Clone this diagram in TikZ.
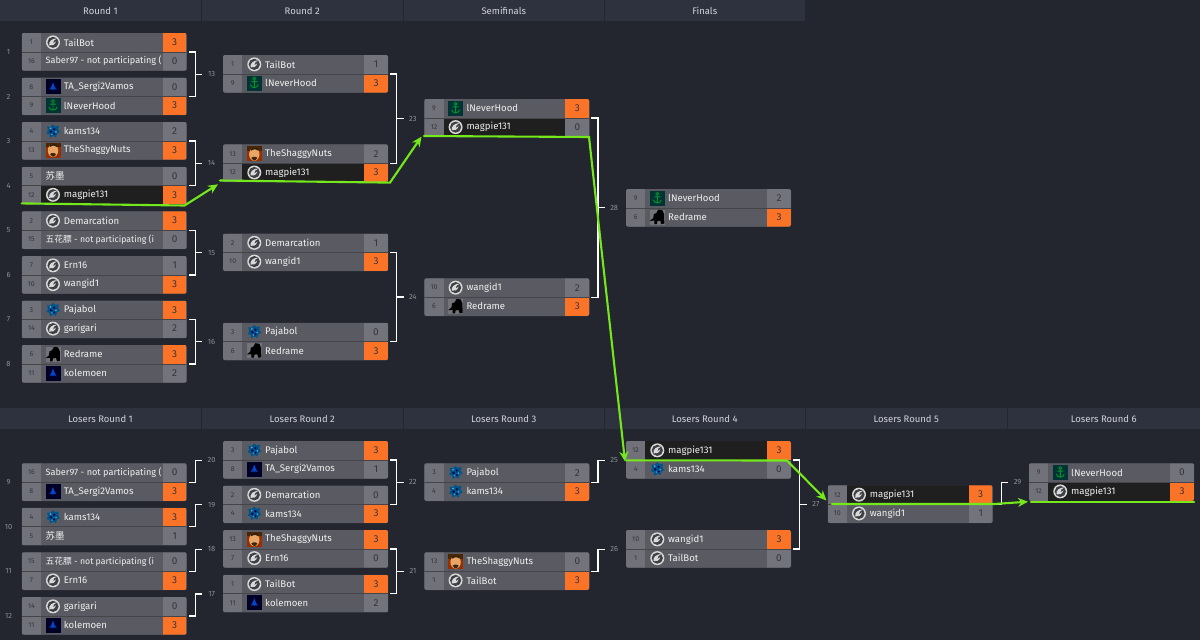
\documentclass[tikz,border=0pt]{standalone}
\usepackage{fontspec}
\setmainfont{Fira Sans}
\newfontfamily\cjkf{Noto Sans CJK SC}
\usetikzlibrary{calc,arrows.meta}
\definecolor{bgc}{HTML}{23262F}
\definecolor{hdr}{HTML}{2E323F}
\definecolor{hdt}{HTML}{D2D4D8}
\definecolor{cname}{HTML}{5A5B62}
\definecolor{cseed}{HTML}{717279}
\definecolor{cscore}{HTML}{73747B}
\definecolor{corange}{HTML}{FB7326}
\definecolor{cdark}{HTML}{201F1F}
\definecolor{tseed}{HTML}{33353C}
\definecolor{tname}{HTML}{F0F0F0}
\definecolor{tnum}{HTML}{8E9097}
\definecolor{gline}{HTML}{74E81A}
\definecolor{logoL}{HTML}{D9D9D9}
\tikzset{
  x=1pt,y=-1pt,
  head/.style={font=\fontsize{9.5}{10}\selectfont,text=hdt,inner sep=0pt},
  num/.style={font=\fontsize{7.5}{9}\selectfont,text=tnum,inner sep=0pt},
  seedt/.style={font=\fontsize{7}{8}\selectfont,text=tseed,inner sep=0pt},
  scoret/.style={font=\fontsize{10}{11}\selectfont,text=tseed,inner sep=0pt},
  namet/.style={font=\fontsize{9.6}{11}\selectfont,text=tname,inner sep=0pt,anchor=west},
  frame/.style={inner sep=0pt,minimum width=165pt,minimum height=37.5pt,rounded corners=2pt,fill=cname},
  br/.style={draw=white,line width=1.2pt},
  win/.style={draw=gline,line width=2.1pt,line cap=round,line join=miter},
  wina/.style={win,-{Stealth[length=10pt,width=9pt]}}
}
% icons, centred on the current scope origin
\newcommand\icntail{\fill[logoL] (0,0) circle (7);\fill[cname!70!black] (0,0) circle (5.6);
  \fill[logoL] (4.2,-4) .. controls (-1,-4) and (-4.5,-1) .. (-3.8,3) .. controls (-1,4) and (2,2.5) .. (3,-1) -- (0,1) -- (1,-2) -- cycle;}
\newcommand\icnhood{\fill[black!60!teal] (-7.5,-7.5) rectangle (7.5,7.5);
  \draw[green!55!teal!75!black,line width=.9pt] (0,-3) -- (0,4.5) (-3,-1.5) -- (3,-1.5) (-4,1.5) .. controls (-3,5.5) and (3,5.5) .. (4,1.5);
  \draw[green!55!teal!75!black,line width=.8pt] (0,-4.5) circle (1.5);}
\newcommand\icnta{\fill[black!85!blue] (-7.5,-7.5) rectangle (7.5,7.5);
  \fill[blue!65!cyan!80!black] (0,-4.5) -- (1.5,-.5) -- (3.5,3) -- (1,2) -- (0,3.5) -- (-1,2) -- (-3.5,3) -- (-1.5,-.5) -- cycle;}
\newcommand\icnkams{\fill[blue!40!cyan!55!black] (0,-7) -- (2,-5) -- (6,-5.5) -- (5,-2) -- (7,1) -- (4,2.5) -- (3,6) -- (0,4.5) -- (-3,6.5) -- (-3.5,3) -- (-6.5,2) -- (-5,-1) -- (-6,-4.5) -- (-2.5,-4.5) -- cycle;
  \fill[blue!30!cyan!35!white!70!black] (-2.5,-3) circle (1) (3,.5) circle (.9) (-1,3) circle (.8);
  \fill[black!70!blue] (-2,.2) circle (1.3) (1.2,-2.2) circle (1.2) (1.2,2.4) circle (1);}
\newcommand\icnface{\fill[orange!60!red!60!black] (-7.5,-7.5) rectangle (7.5,7.5);
  \fill[black!70!orange] (-7.5,-7.5) rectangle (7.5,-3);
  \fill[orange!45!brown!70!white] (0,.5) ellipse (5.2 and 6.5);
  \fill[black!75!brown] (-3.5,-5) .. controls (-1,-7) and (1,-7) .. (4,-5) -- (4,-3) .. controls (1,-5) and (-1,-5) .. (-3.5,-3) -- cycle;
  \fill[black!70!brown] (-3,4) .. controls (-1,7.5) and (1.5,7.5) .. (3,4) -- (1,3) -- (-1,3) -- cycle;}
\newcommand\icnred{\fill[white!15!cname] (-7.5,-7.5) rectangle (7.5,7.5);
  \fill[black] (1,-7.5) -- (5,-7) -- (6.8,-3) -- (7,6.5) -- (4,7) -- (3,3.5) -- (0,4) -- (-.5,7) -- (-3,7) -- (-3,3.5) -- (-7.5,3.8) -- (-4,1) -- (-3.5,-3) -- (-1,-4) -- cycle;}
\newcommand\icnnone{}
% one row: y-offset, tag, seed, icon, name, score, o/g, n/d
\newcommand\mrow[8]{%
  \pgfmathsetmacro\ry{\cy+#1}%
  \pgfmathsetmacro\rbot{\ry+18.75}%
  \pgfmathsetmacro\rc{\ry+9.35}%
  \pgfmathsetmacro\xa{\cx+19.3}\pgfmathsetmacro\xb{\cx+141}\pgfmathsetmacro\xc{\cx+165}%
  \pgfmathsetmacro\xs{\cx+9.7}\pgfmathsetmacro\xi{\cx+31.3}\pgfmathsetmacro\xp{\cx+153}%
  \def\xn{\cx+42}\ifnum\pdfstrcmp{#4}{none}=0 \def\xn{\cx+23.7}\fi
  \fill[cseed] (\cx,\ry) rectangle (\xa,\rbot);
  \fill[\if#8dcdark\else cname\fi] (\xa,\ry) rectangle (\xb,\rbot);
  \fill[\if#7ocorange\else cscore\fi] (\xb,\ry) rectangle (\xc,\rbot);
  \node[seedt] (\mkid-#2-s) at (\xs,\rc) {#3};
  \begin{scope}[shift={(\xi,\rc)}]\csname icn#4\endcsname\end{scope}
  \node[namet] (\mkid-#2-n) at (\xn,\rc) {#5};
  \node[scoret] (\mkid-#2-p) at (\xp,\rc) {#6};
}
\newcommand\match[5]{%
  \def\mkid{m#1}\def\cx{#2}\def\cy{#3}%
  \node[frame,anchor=north west] (m#1) at (#2,#3) {};
  \begin{scope}
    \clip[rounded corners=2pt] (#2,#3) rectangle (#2+165,#3+37.5);
    #4
    #5
    \draw[black!25!cname,line width=.5pt] (#2,#3+18.75) -- (#2+165,#3+18.75);
  \end{scope}
}
\newcommand\ra[6]{\mrow{0}{a}{#1}{#2}{#3}{#4}{#5}{#6}}
\newcommand\rbb[6]{\mrow{18.75}{b}{#1}{#2}{#3}{#4}{#5}{#6}}
\newcommand\saber{\fontsize{9.15}{11}\selectfont Saber97 - not participating (}
\newcommand\wuhua{\fontsize{8.75}{11}\selectfont{\cjkf 五花膘} - not participating (i}
% full bracket between matches a,b, with number c
\newcommand\brk[3]{%
  \draw[br] ([xshift=1.7pt]m#1.east) -- ++(6.5,0) |- ([xshift=1.7pt]m#2.east);
  \coordinate (c#3) at ($(m#1.east)!.5!(m#2.east)$);
  \draw[br] ([xshift=8.2pt]c#3) -- ++(7,0);
  \node[num] (n#3) at ([xshift=24.5pt]c#3) {#3};
}
% half bracket from match a up to number c
\newcommand\hbrk[2]{%
  \coordinate (c#2) at ([yshift=22pt]m#1.east);
  \draw[br] ([xshift=1.7pt]m#1.east) -- ++(6.5,0) |- ([xshift=15pt]c#2);
  \node[num] (n#2) at ([xshift=24.5pt]c#2) {#2};
}
\newcommand\hcell[4]{% name x0 x1 text; y from \hy
  \fill[hdr] (#2,\hy) rectangle (#3,\hy+21);
  \node[head] (#1) at ({(#2+#3)/2},\hy+10.9) {#4};}
\begin{document}
\begin{tikzpicture}
\useasboundingbox (0,0) rectangle (1200,640);
\fill[bgc] (0,0) rectangle (1200,640);
% headers
\def\hy{0}
\hcell{h1}{0}{201}{Round 1}\hcell{h2}{201.5}{403}{Round 2}\hcell{h3}{403.5}{604}{Semifinals}\hcell{h4}{604.5}{805}{Finals}
\def\hy{408}
\hcell{h5}{0}{201}{Losers Round 1}\hcell{h6}{201.5}{403}{Losers Round 2}\hcell{h7}{403.5}{604}{Losers Round 3}\hcell{h8}{604.5}{805}{Losers Round 4}\hcell{h9}{805.5}{1007}{Losers Round 5}\hcell{h10}{1007.5}{1200}{Losers Round 6}
% left numbers
\foreach \i/\y in {1/52,2/96.5,3/141,4/185.7,5/230,6/274.5,7/319,8/363.5,9/482,10/526.7,11/571,12/616}{\node[num] (l\i) at (8.5,\y) {\i};}
% Round 1
\match{1}{21.7}{33}{\ra{1}{tail}{TailBot}{3}{o}{n}}{\rbb{16}{none}{\saber}{0}{g}{n}}
\match{2}{21.7}{77.5}{\ra{8}{ta}{TA\_Sergi2Vamos}{0}{g}{n}}{\rbb{9}{hood}{lNeverHood}{3}{o}{n}}
\match{3}{21.7}{122}{\ra{4}{kams}{kams134}{2}{g}{n}}{\rbb{13}{face}{TheShaggyNuts}{3}{o}{n}}
\match{4}{21.7}{166.7}{\ra{5}{none}{{\cjkf 苏墨}}{0}{g}{n}}{\rbb{12}{tail}{magpie131}{3}{o}{d}}
\match{5}{21.7}{211.3}{\ra{2}{tail}{Demarcation}{3}{o}{n}}{\rbb{15}{none}{\wuhua}{0}{g}{n}}
\match{6}{21.7}{256}{\ra{7}{tail}{Ern16}{1}{g}{n}}{\rbb{10}{tail}{wangid1}{3}{o}{n}}
\match{7}{21.7}{300.5}{\ra{3}{kams}{Pajabol}{3}{o}{n}}{\rbb{14}{tail}{garigari}{2}{g}{n}}
\match{8}{21.7}{345}{\ra{6}{red}{Redrame}{3}{o}{n}}{\rbb{11}{ta}{kolemoen}{2}{g}{n}}
% Round 2
\match{13}{223}{55}{\ra{1}{tail}{TailBot}{1}{g}{n}}{\rbb{9}{hood}{lNeverHood}{3}{o}{n}}
\match{14}{223}{144.4}{\ra{13}{face}{TheShaggyNuts}{2}{g}{n}}{\rbb{12}{tail}{magpie131}{3}{o}{d}}
\match{15}{223}{233.5}{\ra{2}{tail}{Demarcation}{1}{g}{n}}{\rbb{10}{tail}{wangid1}{3}{o}{n}}
\match{16}{223}{322.6}{\ra{3}{kams}{Pajabol}{0}{g}{n}}{\rbb{6}{red}{Redrame}{3}{o}{n}}
% Semis
\match{23}{424.3}{99}{\ra{9}{hood}{lNeverHood}{3}{o}{n}}{\rbb{12}{tail}{magpie131}{0}{g}{d}}
\match{24}{424.3}{278.3}{\ra{10}{tail}{wangid1}{2}{g}{n}}{\rbb{6}{red}{Redrame}{3}{o}{n}}
% Finals
\match{28}{626}{189}{\ra{9}{hood}{lNeverHood}{2}{g}{n}}{\rbb{6}{red}{Redrame}{3}{o}{n}}
% Losers 1
\match{9}{21.7}{463.3}{\ra{16}{none}{\saber}{0}{g}{n}}{\rbb{8}{ta}{TA\_Sergi2Vamos}{3}{o}{n}}
\match{10}{21.7}{507.7}{\ra{4}{kams}{kams134}{3}{o}{n}}{\rbb{5}{none}{{\cjkf 苏墨}}{1}{g}{n}}
\match{11}{21.7}{552.3}{\ra{15}{none}{\wuhua}{0}{g}{n}}{\rbb{7}{tail}{Ern16}{3}{o}{n}}
\match{12}{21.7}{597}{\ra{14}{tail}{garigari}{0}{g}{n}}{\rbb{11}{ta}{kolemoen}{3}{o}{n}}
% Losers 2
\match{20}{223}{441}{\ra{3}{kams}{Pajabol}{3}{o}{n}}{\rbb{8}{ta}{TA\_Sergi2Vamos}{1}{g}{n}}
\match{19}{223}{485.5}{\ra{2}{tail}{Demarcation}{0}{g}{n}}{\rbb{4}{kams}{kams134}{3}{o}{n}}
\match{18}{223}{530}{\ra{13}{face}{TheShaggyNuts}{3}{o}{n}}{\rbb{7}{tail}{Ern16}{0}{g}{n}}
\match{17}{223}{574.7}{\ra{1}{tail}{TailBot}{3}{o}{n}}{\rbb{11}{ta}{kolemoen}{2}{g}{n}}
% Losers 3
\match{22}{424.3}{463.3}{\ra{3}{kams}{Pajabol}{2}{g}{n}}{\rbb{4}{kams}{kams134}{3}{o}{n}}
\match{21}{424.3}{552.3}{\ra{13}{face}{TheShaggyNuts}{0}{g}{n}}{\rbb{1}{tail}{TailBot}{3}{o}{n}}
% Losers 4
\match{25}{626}{441}{\ra{12}{tail}{magpie131}{3}{o}{d}}{\rbb{4}{kams}{kams134}{0}{g}{n}}
\match{26}{626}{530}{\ra{10}{tail}{wangid1}{3}{o}{n}}{\rbb{1}{tail}{TailBot}{0}{g}{n}}
% Losers 5
\match{27}{827.7}{485.3}{\ra{12}{tail}{magpie131}{3}{o}{d}}{\rbb{10}{tail}{wangid1}{1}{g}{n}}
% Losers 6
\match{29}{1029}{463.3}{\ra{9}{hood}{lNeverHood}{0}{g}{n}}{\rbb{12}{tail}{magpie131}{3}{o}{d}}
% brackets
\brk{1}{2}{13}\brk{3}{4}{14}\brk{5}{6}{15}\brk{7}{8}{16}
\brk{13}{14}{23}\brk{15}{16}{24}\brk{23}{24}{28}
\hbrk{9}{20}\hbrk{10}{19}\hbrk{11}{18}\hbrk{12}{17}
\brk{20}{19}{22}\brk{18}{17}{21}
\hbrk{22}{25}\hbrk{21}{26}
\brk{25}{26}{27}
\hbrk{27}{29}
% winner path
\coordinate (g0) at (21.7,203.4);\coordinate (g1) at (184.5,205.5);\coordinate (g2) at (218,184.3);
\coordinate (g3) at (220,180.5);\coordinate (g4) at (390,182.6);\coordinate (g5) at (421.5,136.6);
\coordinate (g6) at (424,136);\coordinate (g7) at (589,137);\coordinate (g8) at (625,461.5);
\coordinate (g9) at (626,460.3);\coordinate (g10) at (787,460.5);\coordinate (g11) at (826.5,500.5);
\coordinate (g12) at (832,504);\coordinate (g13) at (994,504);\coordinate (g14) at (1028,501.7);
\coordinate (g15) at (1031,502.4);\coordinate (g16) at (1194,502.4);
\draw[wina] (g0) -- (g1) -- (g2);
\draw[wina] (g3) -- (g4) -- (g5);
\draw[wina] (g6) -- (g7) -- (g8);
\draw[wina] (g9) -- (g10) -- (g11);
\draw[wina] (g12) -- (g13) -- (g14);
\draw[win] (g15) -- (g16);
\end{tikzpicture}
\end{document}
